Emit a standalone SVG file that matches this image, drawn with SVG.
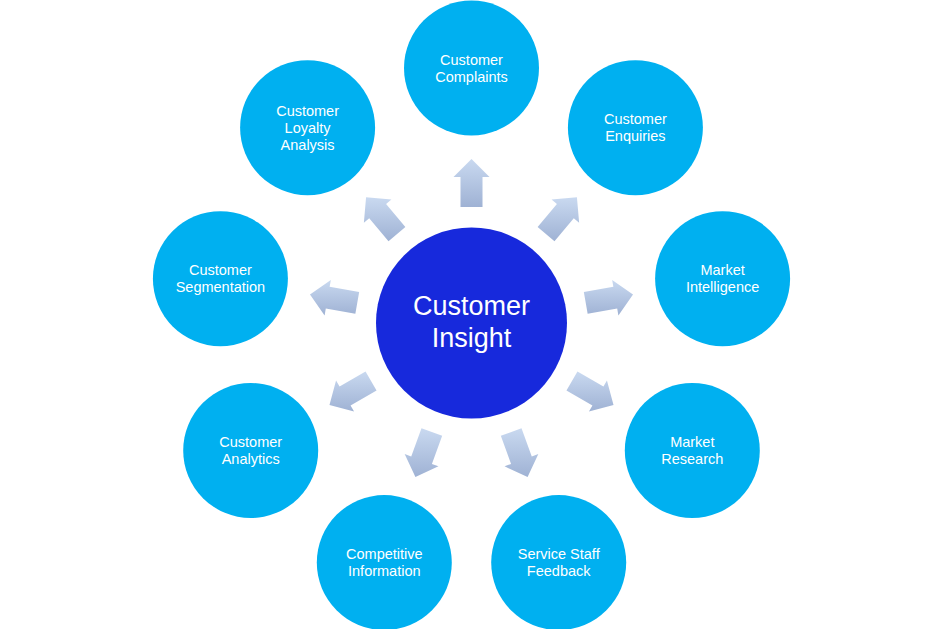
<svg xmlns="http://www.w3.org/2000/svg" width="943" height="629" viewBox="0 0 943 629">
<defs>
<linearGradient id="ag" x1="0" y1="0" x2="0" y2="1">
<stop offset="0" stop-color="#c9d9f0"/>
<stop offset="1" stop-color="#9fb2d4"/>
</linearGradient>
<style>
.node{fill:#00b0f0}
.hub{fill:#1729dc}
.lbl{font-family:"Liberation Sans",Arial,sans-serif;font-size:14.5px;fill:#ffffff;text-anchor:middle}
.hubl{font-family:"Liberation Sans",Arial,sans-serif;font-size:27px;fill:#ffffff;text-anchor:middle}
.arr{fill:url(#ag)}
</style>
</defs>
<rect width="943" height="629" fill="#ffffff"/>
<g id="connectors">
<polygon class="arr" points="460.5,207 460.5,177 453.5,177 471.5,159 489.5,177 482.5,177 482.5,207"/>
<polygon class="arr" points="537.63,227.07 556.92,204.09 551.56,199.59 576.92,197.37 579.14,222.73 573.78,218.23 554.49,241.21"/>
<polygon class="arr" points="583.83,292.03 613.37,286.82 612.16,279.92 633.01,294.53 618.4,315.38 617.19,308.48 587.65,313.69"/>
<polygon class="arr" points="577.46,371.47 603.44,386.47 606.94,380.41 613.52,405 588.94,411.59 592.44,405.53 566.46,390.53"/>
<polygon class="arr" points="521.51,428.25 531.77,456.44 538.34,454.04 527.59,477.11 504.52,466.36 511.09,463.96 500.83,435.77"/>
<polygon class="arr" points="421.49,428.25 411.23,456.44 404.66,454.04 415.41,477.11 438.48,466.36 431.91,463.96 442.17,435.77"/>
<polygon class="arr" points="365.54,371.47 339.56,386.47 336.06,380.41 329.48,405 354.06,411.59 350.56,405.53 376.54,390.53"/>
<polygon class="arr" points="359.17,292.03 329.63,286.82 330.84,279.92 309.99,294.53 324.6,315.38 325.81,308.48 355.35,313.69"/>
<polygon class="arr" points="405.37,227.07 386.08,204.09 391.44,199.59 366.08,197.37 363.86,222.73 369.22,218.23 388.51,241.21"/>
</g>
<g id="hub">
<circle class="hub" cx="471.5" cy="323" r="95.5"/>
<text class="hubl" x="471.5" y="315">Customer</text>
<text class="hubl" x="471.5" y="347">Insight</text>
</g>
<g id="n-complaints">
<circle class="node" cx="471.5" cy="68" r="67.5"/>
<text class="lbl" x="471.5" y="64.5">Customer</text>
<text class="lbl" x="471.5" y="81.5">Complaints</text>
</g>
<g id="n-enquiries">
<circle class="node" cx="635.4" cy="127.7" r="67.5"/>
<text class="lbl" x="635.4" y="124.2">Customer</text>
<text class="lbl" x="635.4" y="141.2">Enquiries</text>
</g>
<g id="n-intelligence">
<circle class="node" cx="722.6" cy="278.7" r="67.5"/>
<text class="lbl" x="722.6" y="275.2">Market</text>
<text class="lbl" x="722.6" y="292.2">Intelligence</text>
</g>
<g id="n-research">
<circle class="node" cx="692.3" cy="450.5" r="67.5"/>
<text class="lbl" x="692.3" y="447">Market</text>
<text class="lbl" x="692.3" y="464">Research</text>
</g>
<g id="n-feedback">
<circle class="node" cx="558.7" cy="562.6" r="67.5"/>
<text class="lbl" x="558.7" y="559.1">Service Staff</text>
<text class="lbl" x="558.7" y="576.1">Feedback</text>
</g>
<g id="n-competitive">
<circle class="node" cx="384.3" cy="562.6" r="67.5"/>
<text class="lbl" x="384.3" y="559.1">Competitive</text>
<text class="lbl" x="384.3" y="576.1">Information</text>
</g>
<g id="n-analytics">
<circle class="node" cx="250.7" cy="450.5" r="67.5"/>
<text class="lbl" x="250.7" y="447">Customer</text>
<text class="lbl" x="250.7" y="464">Analytics</text>
</g>
<g id="n-segmentation">
<circle class="node" cx="220.4" cy="278.7" r="67.5"/>
<text class="lbl" x="220.4" y="275.2">Customer</text>
<text class="lbl" x="220.4" y="292.2">Segmentation</text>
</g>
<g id="n-loyalty">
<circle class="node" cx="307.6" cy="127.7" r="67.5"/>
<text class="lbl" x="307.6" y="115.7">Customer</text>
<text class="lbl" x="307.6" y="132.7">Loyalty</text>
<text class="lbl" x="307.6" y="149.7">Analysis</text>
</g>
</svg>
